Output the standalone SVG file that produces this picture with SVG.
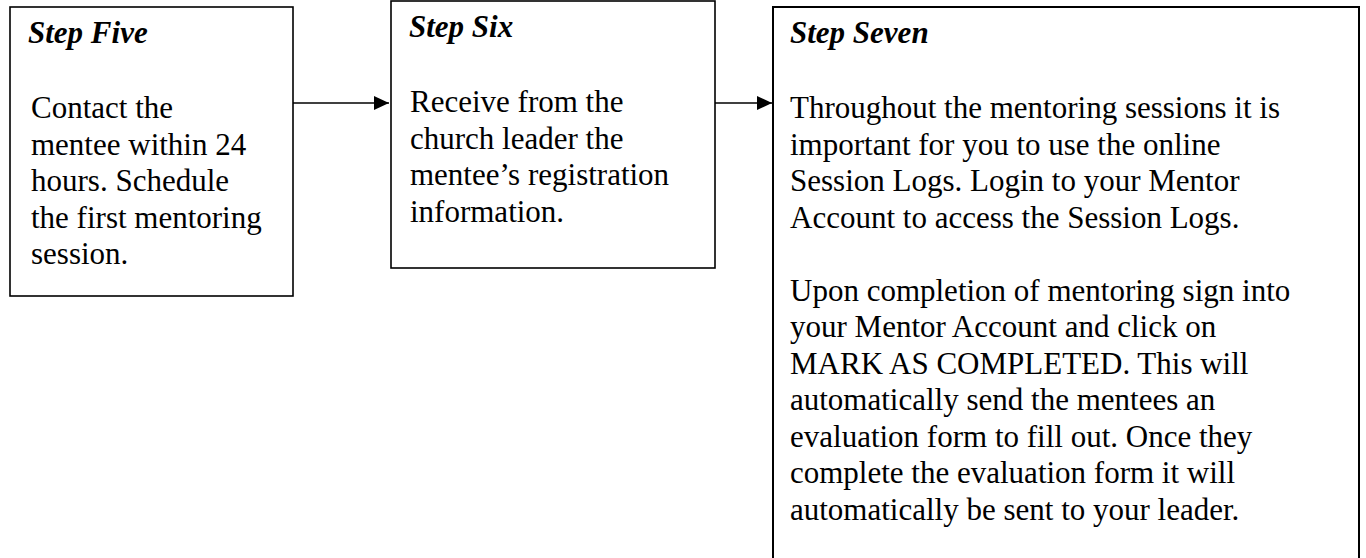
<svg xmlns="http://www.w3.org/2000/svg" width="1366" height="558" viewBox="0 0 1366 558">
<style>
.box{fill:#fff;stroke:#000;stroke-width:1.6}
.h{font-family:"Liberation Serif","Times New Roman",serif;font-size:31px;font-weight:bold;font-style:italic;fill:#000}
.t{font-family:"Liberation Serif","Times New Roman",serif;font-size:31px;fill:#000}
.c{stroke:#000;stroke-width:1.6;fill:none}
</style>
<defs>
<marker id="ah" markerWidth="15" markerHeight="14" refX="15" refY="7" orient="auto" markerUnits="userSpaceOnUse">
<path d="M0,0 L15,7 L0,14 Z" fill="#000"/>
</marker>
</defs>
<rect width="1366" height="558" fill="#fff"/>
<g id="step-five">
<rect class="box" x="10" y="7" width="283" height="289"/>
<text class="h" x="28" y="43">Step Five</text>
<text class="t" x="31" y="118">Contact the</text>
<text class="t" x="31" y="154.5">mentee within 24</text>
<text class="t" x="31" y="191">hours. Schedule</text>
<text class="t" x="31" y="227.5">the first mentoring</text>
<text class="t" x="31" y="264">session.</text>
</g>
<g id="step-six">
<rect class="box" x="391" y="1" width="324" height="267"/>
<text class="h" x="409" y="37">Step Six</text>
<text class="t" x="410" y="112">Receive from the</text>
<text class="t" x="410" y="148.5">church leader the</text>
<text class="t" x="410" y="185">mentee’s registration</text>
<text class="t" x="410" y="221.5">information.</text>
</g>
<g id="step-seven">
<rect class="box" x="773" y="7" width="586" height="570" style="stroke-width:2"/>
<text class="h" x="790" y="43">Step Seven</text>
<text class="t" x="790" y="118">Throughout the mentoring sessions it is</text>
<text class="t" x="790" y="154.5">important for you to use the online</text>
<text class="t" x="790" y="191">Session Logs. Login to your Mentor</text>
<text class="t" x="790" y="227.5">Account to access the Session Logs.</text>
<text class="t" x="790" y="300.5">Upon completion of mentoring sign into</text>
<text class="t" x="790" y="337">your Mentor Account and click on</text>
<text class="t" x="790" y="373.5">MARK AS COMPLETED. This will</text>
<text class="t" x="790" y="410">automatically send the mentees an</text>
<text class="t" x="790" y="446.5">evaluation form to fill out. Once they</text>
<text class="t" x="790" y="483">complete the evaluation form it will</text>
<text class="t" x="790" y="519.5">automatically be sent to your leader.</text>
</g>
<g id="connectors">
<line class="c" x1="293" y1="103" x2="389" y2="103" marker-end="url(#ah)"/>
<line class="c" x1="715" y1="103" x2="772" y2="103" marker-end="url(#ah)"/>
</g>
</svg>
